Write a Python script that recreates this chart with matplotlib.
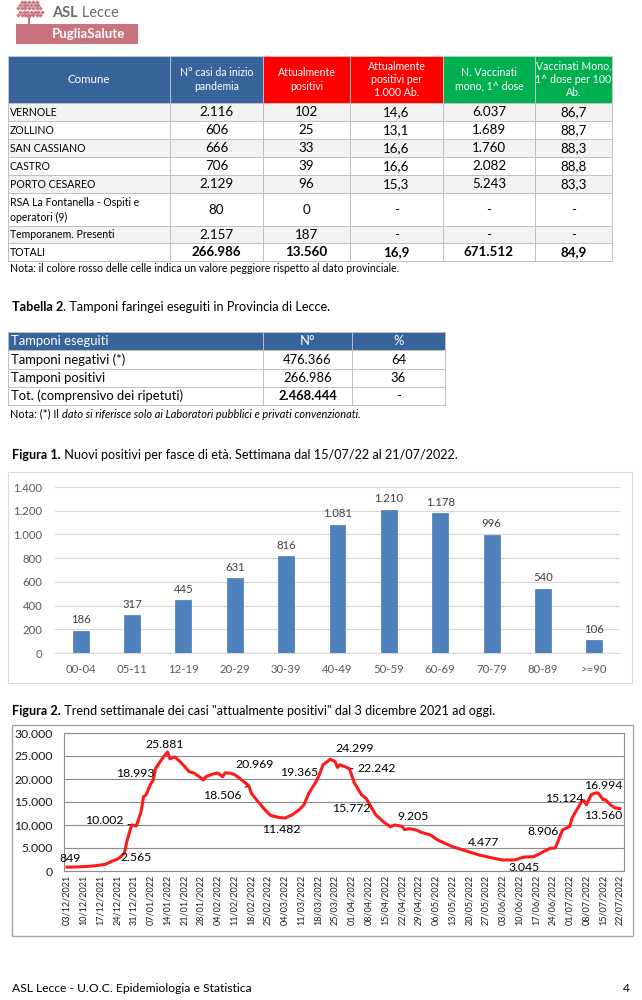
import matplotlib
matplotlib.use('Agg')
import matplotlib.pyplot as plt
from matplotlib.patches import Rectangle
from matplotlib.ticker import FuncFormatter
import numpy as np
import pandas as pd

plt.rcParams['font.family'] = ['Lato', 'DejaVu Sans']

# ---------------- DATA ----------------
t1_headers = ["Comune", "N° casi da inizio\npandemia", "Attualmente\npositivi",
              "Attualmente\npositivi per\n1.000 Ab.", "N. Vaccinati\nmono, 1^ dose",
              "Vaccinati Mono,\n1^ dose per 100\nAb."]
t1_comuni = ["VERNOLE", "ZOLLINO", "SAN CASSIANO", "CASTRO", "PORTO CESAREO",
             "RSA La Fontanella - Ospiti e\noperatori (9)", "Temporanem. Presenti", "TOTALI"]
t1_casi = ["2.116", "606", "666", "706", "2.129", "80", "2.157", "266.986"]
t1_attuali = ["102", "25", "33", "39", "96", "0", "187", "13.560"]
t1_per1000 = ["14,6", "13,1", "16,6", "16,6", "15,3", "-", "-", "16,9"]
t1_vaccinati = ["6.037", "1.689", "1.760", "2.082", "5.243", "-", "-", "671.512"]
t1_per100 = ["86,7", "88,7", "88,3", "88,8", "83,3", "-", "-", "84,9"]

t2_headers = ["Tamponi eseguiti", "N°", "%"]
t2_labels = ["Tamponi negativi (*)", "Tamponi positivi", "Tot. (comprensivo dei ripetuti)"]
t2_n = ["476.366", "266.986", "2.468.444"]
t2_pct = ["64", "36", "-"]

age_groups = ["00-04", "05-11", "12-19", "20-29", "30-39", "40-49", "50-59",
              "60-69", "70-79", "80-89", ">=90"]
age_values = [186, 317, 445, 631, 816, 1081, 1210, 1178, 996, 540, 106]

trend_dates = ["2021-12-03", "2021-12-07", "2021-12-11", "2021-12-15", "2021-12-19",
               "2021-12-21", "2021-12-24", "2021-12-25", "2021-12-27", "2021-12-28",
               "2021-12-30", "2022-01-01", "2022-01-03", "2022-01-04", "2022-01-05",
               "2022-01-07", "2022-01-08", "2022-01-09", "2022-01-12", "2022-01-14",
               "2022-01-15", "2022-01-17", "2022-01-19", "2022-01-21", "2022-01-23",
               "2022-01-25", "2022-01-27", "2022-01-29", "2022-01-30", "2022-02-02",
               "2022-02-04", "2022-02-06", "2022-02-07", "2022-02-09", "2022-02-11",
               "2022-02-13", "2022-02-17", "2022-02-18", "2022-02-20", "2022-02-23",
               "2022-02-26", "2022-03-01", "2022-03-04", "2022-03-07", "2022-03-10",
               "2022-03-12", "2022-03-14", "2022-03-17", "2022-03-18", "2022-03-20",
               "2022-03-23", "2022-03-25", "2022-03-26", "2022-03-27", "2022-03-29",
               "2022-03-31", "2022-04-02", "2022-04-05", "2022-04-07", "2022-04-11",
               "2022-04-14", "2022-04-17", "2022-04-19", "2022-04-22", "2022-04-23",
               "2022-04-25", "2022-04-28", "2022-04-30", "2022-05-04", "2022-05-07",
               "2022-05-10", "2022-05-13", "2022-05-18", "2022-05-24", "2022-05-30",
               "2022-06-03", "2022-06-08", "2022-06-12", "2022-06-16", "2022-06-20",
               "2022-06-23", "2022-06-25", "2022-06-28", "2022-07-01", "2022-07-02",
               "2022-07-04", "2022-07-06", "2022-07-07", "2022-07-08", "2022-07-10",
               "2022-07-12", "2022-07-13", "2022-07-15", "2022-07-16", "2022-07-18",
               "2022-07-20", "2022-07-22"]
trend_values = [849, 880, 980, 1150, 1450, 1950, 2565, 2900, 3900, 6400,
                10002, 9800, 13000, 16200, 16500, 18993, 19700, 22300, 24600, 25881,
                24400, 24800, 23900, 22800, 21600, 21300, 20600, 19800, 20500, 21100,
                21300, 20500, 21300, 21300, 20969, 20200, 18506, 16900, 15600, 13700,
                12100, 11700, 11482, 12200, 13300, 14400, 16900, 19365, 20400, 23100,
                24299, 23800, 22500, 23100, 22700, 22242, 19200, 16600, 15772, 12200,
                10800, 9600, 10000, 9700, 9000, 9205, 8900, 8400, 7800, 6700,
                6000, 5300, 4477, 3500, 2800, 2400, 2400, 3045, 3100, 4200,
                4950, 5000, 8906, 9700, 11500, 13300, 15124, 15300, 14400, 16600,
                16994, 16900, 15500, 15500, 14400, 13700, 13560]
trend_label_dates = ["2021-12-03", "2021-12-24", "2021-12-30", "2022-01-07", "2022-01-14",
                     "2022-02-11", "2022-02-17", "2022-03-04", "2022-03-17", "2022-03-23",
                     "2022-03-31", "2022-04-07", "2022-04-25", "2022-05-18", "2022-06-12",
                     "2022-06-28", "2022-07-06", "2022-07-12", "2022-07-22"]

# ---------------- STYLE / LAYOUT ----------------
W, H = 642, 1000
BLUE = "#37649a"
RED = "#ff0000"
GREEN = "#00b050"
GRID = "#bfbfbf"
LIGHT = "#f2f2f2"

fig = plt.figure(figsize=(6.42, 10), dpi=100)
bg = fig.add_axes([0, 0, 1, 1])
bg.set_xlim(0, W)
bg.set_ylim(H, 0)
bg.axis('off')
renderer = fig.canvas.get_renderer()


def ax_rect(l, t, r, b):
    return [l / W, 1 - b / H, (r - l) / W, (b - t) / H]


def rich(x, y, parts, size, color="black"):
    cur = x
    for s, style in parts:
        t = bg.text(cur, y, s, fontsize=size, va='center', ha='left', color=color, **style)
        cur += t.get_window_extent(renderer).width


# ---------------- LOGO ----------------
PINK = "#c9737e"
bg.plot([29, 29], [15, 25], color=PINK, lw=1.5)
bg.plot([29, 24], [18, 13], color=PINK, lw=1)
bg.plot([29, 34], [18, 13], color=PINK, lw=1)
leaf_x, leaf_y = [], []
for r in range(5):
    for c in range(7):
        px = 18 + c * 3.7 + (r % 2) * 1.8
        py = 2 + r * 3.2
        if (px - 29) ** 2 / 14 ** 2 + (py - 10) ** 2 / 10 ** 2 <= 1.05:
            leaf_x.append(px)
            leaf_y.append(py)
bg.scatter(leaf_x, leaf_y, s=5, marker='D', color=PINK, linewidths=0)
rich(52, 13, [("ASL", dict(fontweight='bold')), (" Lecce", {})], 10.5, color="#6b6b6b")
bg.add_patch(Rectangle((16, 24), 122, 20, facecolor=PINK, edgecolor='none'))
bg.text(52, 34.5, "PugliaSalute", fontsize=9.5, color='white', fontweight='bold',
        va='center', ha='left')

# ---------------- TABLE 1 ----------------
cols = [8, 170, 263, 350, 443, 535, 612]
head_top, head_bot = 56, 103
rows = [103, 121, 139, 157, 175, 193, 226, 243, 261]
head_colors = [BLUE, BLUE, RED, RED, GREEN, GREEN]
for i, h in enumerate(t1_headers):
    bg.add_patch(Rectangle((cols[i], head_top), cols[i + 1] - cols[i], head_bot - head_top,
                           facecolor=head_colors[i], edgecolor='#d0d0d0', lw=0.5))
    bg.text((cols[i] + cols[i + 1]) / 2, (head_top + head_bot) / 2, h, color='white',
            fontsize=8.3 if i == 0 else 7.6, ha='center', va='center', linespacing=1.25)
table_cols = [t1_comuni, t1_casi, t1_attuali, t1_per1000, t1_vaccinati, t1_per100]
for r in range(len(t1_comuni)):
    top, bot = rows[r], rows[r + 1]
    fc = LIGHT if r % 2 == 0 else 'white'
    bg.add_patch(Rectangle((cols[0], top), cols[-1] - cols[0], bot - top,
                           facecolor=fc, edgecolor='none'))
    is_tot = r == len(t1_comuni) - 1
    for c in range(6):
        val = table_cols[c][r]
        if c == 0:
            bg.text(cols[0] + 2, (top + bot) / 2 + 0.5, val, fontsize=7.6, ha='left',
                    va='center', color='black', linespacing=1.35)
        else:
            bg.text((cols[c] + cols[c + 1]) / 2, (top + bot) / 2 + 0.5, val, fontsize=9.6,
                    ha='center', va='center', color='black',
                    fontweight='bold' if is_tot else 'normal')
for y in rows:
    bg.plot([cols[0], cols[-1]], [y, y], color=GRID, lw=0.7)
for x in cols:
    bg.plot([x, x], [rows[0], rows[-1]], color=GRID, lw=0.7)
bg.text(10, 268.5, "Nota: il colore rosso delle celle indica un valore peggiore rispetto al dato provinciale.",
        fontsize=7.6, va='center', ha='left')

# ---------------- TABLE 2 ----------------
rich(12, 307, [("Tabella 2", dict(fontweight='bold')),
               (". Tamponi faringei eseguiti in Provincia di Lecce.", {})], 9.2)
c2 = [8, 263, 352, 445]
r2 = [332, 350, 369, 387, 405]
bg.add_patch(Rectangle((c2[0], r2[0]), c2[-1] - c2[0], r2[1] - r2[0],
                       facecolor=BLUE, edgecolor='none'))
T2S = 9.4
for i, h in enumerate(t2_headers):
    if i == 0:
        bg.text(c2[0] + 3, (r2[0] + r2[1]) / 2, h, color='white', fontsize=T2S,
                ha='left', va='center')
    else:
        bg.text((c2[i] + c2[i + 1]) / 2, (r2[0] + r2[1]) / 2, h, color='white',
                fontsize=T2S, ha='center', va='center')
for r in range(len(t2_labels)):
    yc = (r2[r + 1] + r2[r + 2]) / 2
    bg.text(c2[0] + 3, yc, t2_labels[r], fontsize=T2S, ha='left', va='center')
    bg.text((c2[1] + c2[2]) / 2, yc, t2_n[r], fontsize=T2S, ha='center', va='center',
            fontweight='bold' if r == 2 else 'normal')
    bg.text((c2[2] + c2[3]) / 2, yc, t2_pct[r], fontsize=T2S, ha='center', va='center')
for y in r2:
    bg.plot([c2[0], c2[-1]], [y, y], color=GRID, lw=0.7)
for x in c2:
    bg.plot([x, x], [r2[0], r2[-1]], color=GRID, lw=0.7)
rich(10, 414, [("Nota: (*) Il ", {}),
               ("dato si riferisce solo ai Laboratori pubblici e privati convenzionati.",
                dict(fontstyle='italic'))], 7.9)

# ---------------- FIGURE 1 ----------------
rich(12, 455, [("Figura 1.", dict(fontweight='bold')),
               (" Nuovi positivi per fasce di età. Settimana dal 15/07/22 al 21/07/2022.", {})], 9.1)
bg.add_patch(Rectangle((8, 472), 624, 211, facecolor='none', edgecolor='#d9d9d9', lw=0.8))
ax1 = fig.add_axes(ax_rect(55, 487, 620, 653))
x1 = np.arange(len(age_groups))
ax1.bar(x1, age_values, width=0.31, color='#4f81bd', edgecolor='#4a7ab3', lw=0.5, zorder=3)
ax1.set_xlim(-0.5, len(age_groups) - 0.5)
ax1.set_ylim(0, 1400)
ax1.set_yticks(np.arange(0, 1401, 200))
ax1.yaxis.set_major_formatter(FuncFormatter(lambda v, p: f"{int(v):,}".replace(",", ".")))
ax1.set_xticks(x1)
ax1.set_xticklabels(age_groups)
ax1.grid(axis='y', color='#d9d9d9', lw=0.8, zorder=0)
for s in ['top', 'right', 'left']:
    ax1.spines[s].set_visible(False)
ax1.spines['bottom'].set_color('#d9d9d9')
ax1.tick_params(length=0, labelsize=8.2, colors='#595959', pad=8)
ax1.tick_params(axis='y', pad=9)
for xi, v in zip(x1, age_values):
    ax1.annotate(f"{v:,}".replace(",", "."), (xi, v), xytext=(0, 4), textcoords='offset points',
                 ha='center', va='bottom', fontsize=8.2, color='#404040')

# ---------------- FIGURE 2 ----------------
rich(12, 711, [("Figura 2.", dict(fontweight='bold')),
               (' Trend settimanale dei casi "attualmente positivi" dal 3 dicembre 2021 ad oggi.', {})], 9.1)
bg.add_patch(Rectangle((12, 725), 621, 211, facecolor='none', edgecolor='#a6a6a6', lw=1))
ax2 = fig.add_axes(ax_rect(64, 733, 624, 871))
dates = pd.to_datetime(trend_dates)
ax2.plot(dates, trend_values, color='#ff1a1a', lw=2.2, solid_joinstyle='round', zorder=3)
start = pd.Timestamp(trend_dates[0])
end = pd.Timestamp(trend_dates[-1])
ax2.set_xlim(start - pd.Timedelta(days=1.25), end + pd.Timedelta(days=1.7))
ax2.set_ylim(0, 30000)
ax2.set_yticks(np.arange(0, 30001, 5000))
ax2.yaxis.set_major_formatter(FuncFormatter(lambda v, p: f"{int(v):,}".replace(",", ".")))
weekly = pd.date_range(start, end, freq='7D')
ax2.set_xticks(weekly)
ax2.set_xticklabels([d.strftime("%d/%m/%Y") for d in weekly], rotation=90)
ax2.grid(axis='y', color='#8c8c8c', lw=0.8, zorder=0)
for s in ax2.spines.values():
    s.set_color('#8c8c8c')
    s.set_linewidth(0.8)
ax2.tick_params(axis='x', length=0, labelsize=6.5, pad=3, colors='#1a1a1a')
ax2.tick_params(axis='y', length=0, labelsize=8.8, pad=8, colors='#1a1a1a')

label_offsets = {  # pixel offsets of label centers from their points
    "2021-12-03": (3, -9), "2021-12-24": (19, -2), "2021-12-30": (-27, -4),
    "2022-01-07": (-16, -10), "2022-01-14": (-3, -7), "2022-02-11": (20, -10),
    "2022-02-17": (-27, 10), "2022-03-04": (-4, 11), "2022-03-17": (-17, -9),
    "2022-03-23": (24, -11), "2022-03-31": (27, 0), "2022-04-07": (-15, 10),
    "2022-04-25": (4, -12), "2022-05-18": (19, -8), "2022-06-12": (0, 11),
    "2022-06-28": (-19, 1), "2022-07-06": (-17, -3), "2022-07-12": (7, -7),
    "2022-07-22": (-17, 7)}
leaders = {"2021-12-30", "2022-02-17", "2022-03-31"}
px2pt = 72 / 100
for d in trend_label_dates:
    i = trend_dates.index(d)
    v = trend_values[i]
    dx, dy = label_offsets[d]
    txt = f"{v:,}".replace(",", ".")
    kw = {}
    if d in leaders:
        kw['arrowprops'] = dict(arrowstyle='-', color='black', lw=0.7, shrinkA=1, shrinkB=1)
    ax2.annotate(txt, (pd.Timestamp(d), v), xytext=(dx * px2pt, -dy * px2pt),
                 textcoords='offset points', ha='center', va='center', fontsize=8.8, **kw)

# ---------------- FOOTER ----------------
bg.text(12, 988, "ASL Lecce - U.O.C. Epidemiologia e Statistica", fontsize=8.7, va='center', ha='left')
bg.text(630, 988, "4", fontsize=8.7, va='center', ha='right')

fig.savefig("out.png", dpi=100)
